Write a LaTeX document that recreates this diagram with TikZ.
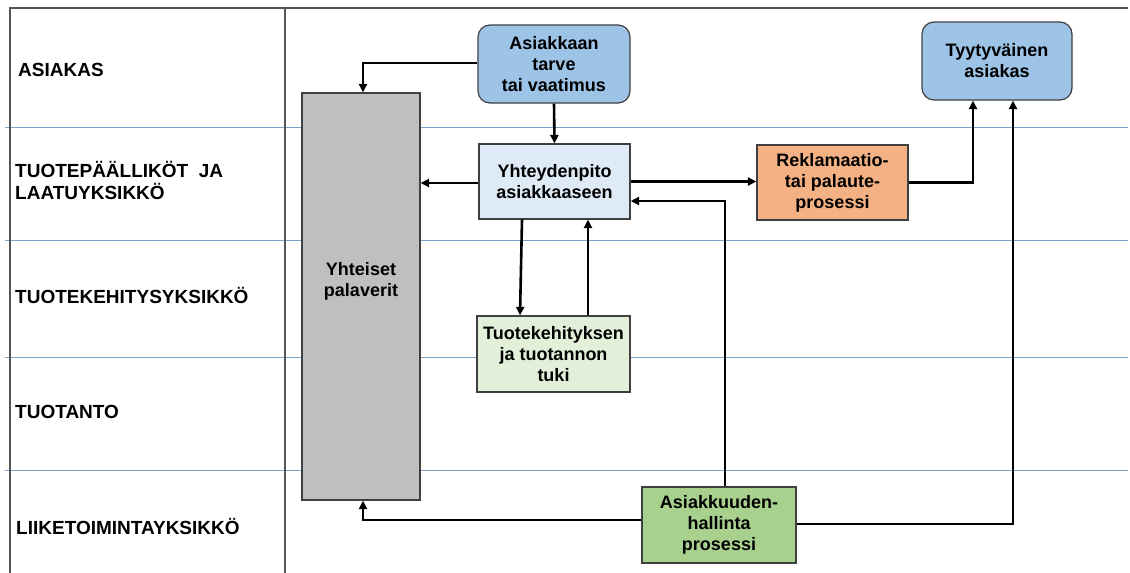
\documentclass[tikz,border=0pt]{standalone}
\usepackage{fontspec}
\setmainfont{Liberation Sans}
\usetikzlibrary{arrows.meta}
\definecolor{laneline}{HTML}{7AA3C9}
\definecolor{frameline}{HTML}{555555}
\definecolor{boxline}{HTML}{404040}
\definecolor{custblue}{HTML}{9DC3E6}
\definecolor{paleblue}{HTML}{DEEBF7}
\definecolor{salmon}{HTML}{F4B183}
\definecolor{palegreen}{HTML}{E2F0D9}
\definecolor{midgreen}{HTML}{A9D18E}
\definecolor{meetgray}{HTML}{BFBFBF}
\begin{document}
\begin{tikzpicture}[x=1pt,y=-1pt,
  box/.style={draw=boxline, line width=1.2pt, align=center, inner sep=0pt,
    font=\fontsize{18}{21}\selectfont\bfseries},
  roundbox/.style={box, rounded corners=12pt, fill=custblue},
  lanelabel/.style={anchor=base west, inner sep=0pt,
    font=\fontsize{19}{22}\selectfont\bfseries},
  flow/.style={line width=2.6pt, -{Triangle[length=8.5pt,width=8pt]}},
]
\useasboundingbox (0,0) rectangle (1130,573);

% lane separators and frame
\foreach \yy in {127,240,357,470}
  \draw[laneline, line width=0.9pt] (5,\yy) -- (1128,\yy);
\draw[frameline, line width=1.2pt] (10,573) -- (10,8) -- (1128,8);
\draw[frameline, line width=1.2pt] (285,8) -- (285,573);

% lane names
\node[lanelabel] (l1) at (18,76) {ASIAKAS};
\node[lanelabel] (l2a) at (15,177) {TUOTEPÄÄLLIKÖT\ \ JA};
\node[lanelabel] (l2b) at (15,199) {LAATUYKSIKKÖ};
\node[lanelabel] (l3) at (15,303) {TUOTEKEHITYSYKSIKKÖ};
\node[lanelabel] (l4) at (15,418) {TUOTANTO};
\node[lanelabel] (l5) at (16,534) {LIIKETOIMINTAYKSIKKÖ};

% process boxes
\node[roundbox, minimum width=152pt, minimum height=78pt] (need) at (554,64)
  {Asiakkaan\\tarve\\tai vaatimus};
\node[roundbox, minimum width=150pt, minimum height=78pt] (happy) at (997,61)
  {Tyytyväinen\\asiakas};
\node[box, fill=paleblue, minimum width=151pt, minimum height=75pt] (contact) at (554.5,181.5)
  {Yhteydenpito\\asiakkaaseen};
\node[box, fill=salmon, minimum width=151pt, minimum height=75pt] (claim) at (832.5,182.5)
  {Reklamaatio-\\tai palaute-\\prosessi};
\node[box, fill=meetgray, minimum width=118pt, minimum height=407pt] (meet) at (361,296.5) {};
\node[font=\fontsize{18}{21}\selectfont\bfseries, align=center, inner sep=0pt] (meettext) at (361,281)
  {Yhteiset\\palaverit};
\node[box, fill=palegreen, minimum width=153pt, minimum height=76pt] (dev) at (553.5,354)
  {Tuotekehityksen\\ja tuotannon\\tuki};
\node[box, fill=midgreen, minimum width=154pt, minimum height=76pt] (crm) at (719,525)
  {Asiakkuuden-\\hallinta\\prosessi};

% connectors
\draw[flow] ([yshift=1pt]need.west) -| ([xshift=2pt]meet.north);
\draw[flow] (need.south) -- (contact.north);
\draw[flow] ([yshift=-1.5pt]contact.west) -- ([yshift=-1.5pt]contact.west -| meet.east);
\draw[flow] (contact.east) -- (contact.east -| claim.west);
\draw[flow] ([xshift=6pt]crm.north) |- ([yshift=-19.5pt]contact.east);
\draw[flow] (claim.east) -| ([xshift=-24pt]happy.south);
\draw[flow] ([yshift=1pt]crm.east) -| ([xshift=16pt]happy.south);
\draw[flow] ([yshift=5pt]crm.west) -| ([xshift=2pt]meet.south);
\draw[flow] ([xshift=-32.5pt]contact.south) -- ([xshift=-33.5pt]dev.north);
\draw[flow] ([xshift=34.5pt]dev.north) -- ([xshift=33.5pt]contact.south);
\end{tikzpicture}
\end{document}
